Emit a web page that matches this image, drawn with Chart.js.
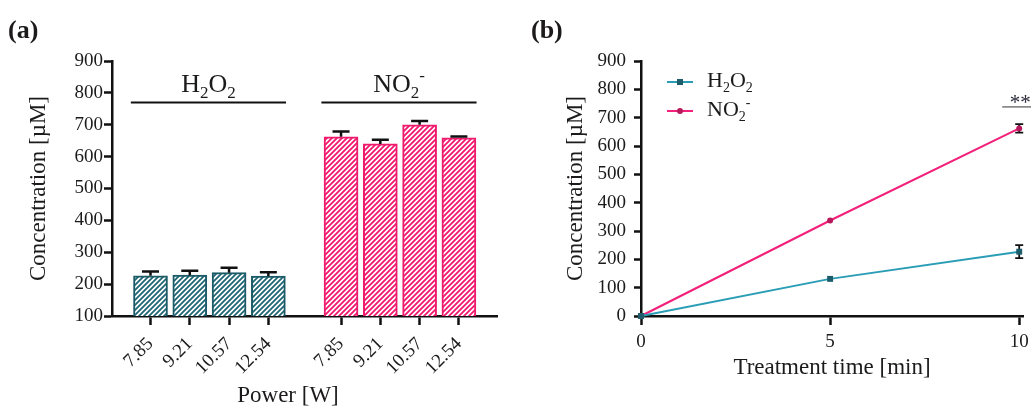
<!DOCTYPE html>
<html>
<head>
<meta charset="utf-8">
<script src="https://cdn.jsdelivr.net/npm/chart.js@4"></script>
<style>
  html, body { margin: 0; padding: 0; background: #fff; }
  #wrap { position: relative; width: 1031px; height: 408px; }
  .box { position: absolute; top: 0; height: 408px; }
  #boxA { left: 0; width: 516px; }
  #boxB { left: 516px; width: 515px; }
</style>
</head>
<body>
<div id="wrap">
  <div class="box" id="boxA"><canvas id="barChart"></canvas></div>
  <div class="box" id="boxB"><canvas id="lineChart"></canvas></div>
</div>
<script>
// ---- data: panel (a) ----
const powerLabels = ['7.85', '9.21', '10.57', '12.54'];
const h2o2Conc = [226, 228, 236, 225];
const h2o2Err = [14, 14, 15, 12];
const no2Conc = [662, 640, 700, 659];
const no2Err = [17, 13, 12, 4];
const barYTicks = [100, 200, 300, 400, 500, 600, 700, 800, 900];

// ---- data: panel (b) ----
const timeMin = [0, 5, 10];
const h2o2Time = [0, 131, 227];
const h2o2TimeErr = [0, 0, 23];
const no2Time = [0, 337, 662];
const no2TimeErr = [0, 0, 15];
const lineXTicks = [0, 5, 10];
const lineYTicks = [0, 100, 200, 300, 400, 500, 600, 700, 800, 900];

const SERIF = "'Liberation Serif', 'Times New Roman', serif";
const INK = '#1c1a1b';
const groupShift = 4.85;   // second group starts after a gap

const barPos = powerLabels.map((_, i) => i).concat(powerLabels.map((_, i) => i + groupShift));
const barTickLabels = powerLabels.concat(powerLabels);

function hatch(color) {
  const s = 5;
  const c = document.createElement('canvas');
  c.width = s; c.height = s;
  const g = c.getContext('2d');
  g.fillStyle = '#fff';
  g.fillRect(0, 0, s, s);
  g.strokeStyle = color;
  g.lineWidth = 1.8;
  g.beginPath();
  g.moveTo(0, s); g.lineTo(s, 0);
  g.moveTo(-s, s); g.lineTo(s, -s);
  g.moveTo(0, 2 * s); g.lineTo(2 * s, 0);
  g.stroke();
  return g.createPattern(c, 'repeat');
}

// text with sub/superscripts, parts = [[text, 'n'|'sub'|'sup'], ...]
function drawFormula(ctx, parts, x, y, size, align) {
  const fontFor = k => (k === 'n' ? size : Math.round(size * 0.65)) + 'px ' + SERIF;
  let w = 0;
  parts.forEach(p => { ctx.font = fontFor(p[1]); w += ctx.measureText(p[0]).width; });
  let cx = align === 'center' ? x - w / 2 : x;
  ctx.textAlign = 'left';
  ctx.textBaseline = 'alphabetic';
  parts.forEach(p => {
    ctx.font = fontFor(p[1]);
    const dy = p[1] === 'sub' ? size * 0.24 : p[1] === 'sup' ? -size * 0.42 : 0;
    ctx.fillText(p[0], cx, y + dy);
    cx += ctx.measureText(p[0]).width;
  });
}

const H2O2 = [['H', 'n'], ['2', 'sub'], ['O', 'n'], ['2', 'sub']];
const NO2 = [['NO', 'n'], ['2', 'sub'], ['-', 'sup']];

function errorBarsPlugin(hook, both) {
  const p = { id: 'errBars' + hook };
  p[hook] = function (chart) {
    const ctx = chart.ctx, ys = chart.scales.y;
    ctx.save();
    ctx.strokeStyle = '#111';
    chart.data.datasets.forEach((ds, di) => {
      const meta = chart.getDatasetMeta(di);
      meta.data.forEach((el, i) => {
        const v = ds.data[i].y, e = ds.err[i];
        if (!e) return;
        const top = ys.getPixelForValue(v + e);
        const bot = both ? ys.getPixelForValue(v - e) : el.y;
        const cap = both ? 4 : 8.5;
        ctx.lineWidth = both ? 1.8 : 2.5;
        ctx.beginPath();
        ctx.moveTo(el.x, bot); ctx.lineTo(el.x, top);
        ctx.moveTo(el.x - cap, top); ctx.lineTo(el.x + cap, top);
        if (both) { ctx.moveTo(el.x - cap, bot); ctx.lineTo(el.x + cap, bot); }
        ctx.stroke();
      });
    });
    ctx.restore();
  };
  return p;
}

const axisGrid = { drawOnChartArea: false, tickWidth: 2.5, color: '#111', offset: false };
const axisBorder = { color: '#111', width: 2.5 };
const tickFont = { family: SERIF, size: 19 };

/* ================= PANEL (a): BAR CHART ================= */
const barAnnot = {
  id: 'barAnnot',
  afterDraw(chart) {
    const ctx = chart.ctx, xs = chart.scales.x, ys = chart.scales.y;
    ctx.save();
    ctx.fillStyle = INK;
    ctx.strokeStyle = '#111';
    ctx.lineWidth = 2;
    [[0, H2O2], [groupShift, NO2]].forEach(([start, parts]) => {
      const x0 = xs.getPixelForValue(start - 0.5);
      const x1 = xs.getPixelForValue(start + 3.45);
      const ly = ys.getPixelForValue(770);
      ctx.beginPath(); ctx.moveTo(x0, ly); ctx.lineTo(x1, ly); ctx.stroke();
      drawFormula(ctx, parts, (x0 + x1) / 2, ys.getPixelForValue(804), 26, 'center');
    });
    ctx.font = 'bold 26px ' + SERIF;
    ctx.textAlign = 'left';
    ctx.fillText('(a)', 8, 38);
    ctx.font = '23px ' + SERIF;
    ctx.textAlign = 'center';
    ctx.textBaseline = 'middle';
    ctx.fillText('Power [W]', 288, 396);
    ctx.restore();
  }
};

const barChart = new Chart(document.getElementById('barChart'), {
  type: 'bar',
  data: {
    datasets: [
      {
        label: 'H2O2',
        data: h2o2Conc.map((v, i) => ({ x: barPos[i], y: v })),
        err: h2o2Err,
        backgroundColor: hatch('#1f6674'),
        borderColor: '#1b5b68',
        borderWidth: 2,
        borderSkipped: false,
        barThickness: 34,
        grouped: false
      },
      {
        label: 'NO2-',
        data: no2Conc.map((v, i) => ({ x: barPos[i + 4], y: v })),
        err: no2Err,
        backgroundColor: hatch('#f2166f'),
        borderColor: '#ee1a6c',
        borderWidth: 2,
        borderSkipped: false,
        barThickness: 34,
        grouped: false
      }
    ]
  },
  options: {
    responsive: true,
    maintainAspectRatio: false,
    animation: false,
    layout: { padding: { left: 0, right: 19, top: 61, bottom: 0 } },
    plugins: { legend: { display: false }, tooltip: { enabled: false } },
    scales: {
      x: {
        type: 'linear',
        offset: false,
        min: -0.98,
        max: 8.82,
        afterBuildTicks: s => { s.ticks = barPos.map(v => ({ value: v })); },
        afterFit: s => { s.height = 92; s.paddingRight = 0; },
        grid: Object.assign({ tickLength: 9 }, axisGrid),
        border: axisBorder,
        ticks: {
          autoSkip: false, minRotation: 45, maxRotation: 45, padding: 8,
          font: tickFont, color: INK,
          callback: (v, i) => barTickLabels[i]
        }
      },
      y: {
        min: 100,
        max: 900,
        afterBuildTicks: s => { s.ticks = barYTicks.map(v => ({ value: v })); },
        afterFit: s => { s.width = 112; },
        grid: Object.assign({ tickLength: 8 }, axisGrid),
        border: axisBorder,
        ticks: { padding: 1, font: tickFont, color: INK },
        title: {
          display: true, text: 'Concentration [µM]', color: INK,
          font: { family: SERIF, size: 23 }, padding: { top: 25, bottom: 0 }
        }
      }
    }
  },
  plugins: [errorBarsPlugin('afterDatasetsDraw', false), barAnnot]
});

/* ================= PANEL (b): LINE CHART ================= */
const lineAnnot = {
  id: 'lineAnnot',
  afterDraw(chart) {
    const ctx = chart.ctx, xs = chart.scales.x, ys = chart.scales.y;
    ctx.save();
    // legend
    const rows = [[82, chart.data.datasets[0], H2O2], [111, chart.data.datasets[1], NO2]];
    rows.forEach(([ly, ds, parts]) => {
      ctx.strokeStyle = ds.borderColor;
      ctx.lineWidth = 2;
      ctx.beginPath(); ctx.moveTo(151, ly); ctx.lineTo(177, ly); ctx.stroke();
      ctx.fillStyle = ds.pointBackgroundColor;
      if (ds.pointStyle === 'rect') {
        ctx.fillRect(164 - 3, ly - 3, 6, 6);
      } else {
        ctx.beginPath(); ctx.arc(164, ly, 3, 0, Math.PI * 2); ctx.fill();
      }
      ctx.fillStyle = INK;
      drawFormula(ctx, parts, 191, ly + 5, 22, 'left');
    });
    // significance mark
    const px = xs.getPixelForValue(10);
    const sy = ys.getPixelForValue(738);
    ctx.strokeStyle = '#777';
    ctx.lineWidth = 1.5;
    ctx.beginPath(); ctx.moveTo(px - 17, sy); ctx.lineTo(chart.width, sy); ctx.stroke();
    ctx.fillStyle = '#2a2a3a';
    ctx.font = '21px ' + SERIF;
    ctx.textAlign = 'center';
    ctx.textBaseline = 'alphabetic';
    ctx.fillText('**', px + 1, sy + 2);
    ctx.fillStyle = INK;
    ctx.font = 'bold 26px ' + SERIF;
    ctx.textAlign = 'left';
    ctx.fillText('(b)', 15, 38);
    ctx.restore();
  }
};

const lineChart = new Chart(document.getElementById('lineChart'), {
  type: 'line',
  data: {
    datasets: [
      {
        label: 'H2O2',
        data: timeMin.map((t, i) => ({ x: t, y: h2o2Time[i] })),
        err: h2o2TimeErr,
        borderColor: '#2a9db6',
        borderWidth: 2,
        pointStyle: 'rect',
        pointRadius: 4.2,
        pointBackgroundColor: '#1d5d6b',
        pointBorderColor: '#1d5d6b',
        pointBorderWidth: 0,
        tension: 0,
        clip: false
      },
      {
        label: 'NO2-',
        data: timeMin.map((t, i) => ({ x: t, y: no2Time[i] })),
        err: no2TimeErr,
        borderColor: '#f2207a',
        borderWidth: 2,
        pointStyle: 'circle',
        pointRadius: 3,
        pointBackgroundColor: '#b8195a',
        pointBorderColor: '#b8195a',
        pointBorderWidth: 0,
        tension: 0,
        clip: false
      }
    ]
  },
  options: {
    responsive: true,
    maintainAspectRatio: false,
    animation: false,
    layout: { padding: { left: 0, right: 8, top: 61, bottom: 0 } },
    plugins: { legend: { display: false }, tooltip: { enabled: false } },
    scales: {
      x: {
        type: 'linear',
        min: 0,
        max: 10.1,
        afterBuildTicks: s => { s.ticks = lineXTicks.map(v => ({ value: v })); },
        afterFit: s => { s.height = 92; s.paddingRight = 0; s.paddingLeft = 0; },
        grid: Object.assign({ tickLength: 9 }, axisGrid),
        border: axisBorder,
        ticks: { padding: 6, font: tickFont, color: INK, maxRotation: 0 },
        title: {
          display: true, text: 'Treatment time [min]', color: INK,
          font: { family: SERIF, size: 23 }, padding: { top: 0, bottom: 26 }
        }
      },
      y: {
        min: 0,
        max: 900,
        afterBuildTicks: s => { s.ticks = lineYTicks.map(v => ({ value: v })); },
        afterFit: s => { s.width = 125; },
        grid: Object.assign({ tickLength: 7 }, axisGrid),
        border: axisBorder,
        ticks: { padding: 8, font: tickFont, color: INK },
        title: {
          display: true, text: 'Concentration [µM]', color: INK,
          font: { family: SERIF, size: 23 }, padding: { top: 46, bottom: 0 }
        }
      }
    }
  },
  plugins: [errorBarsPlugin('beforeDatasetsDraw', true), lineAnnot]
});
</script>
</body>
</html>
